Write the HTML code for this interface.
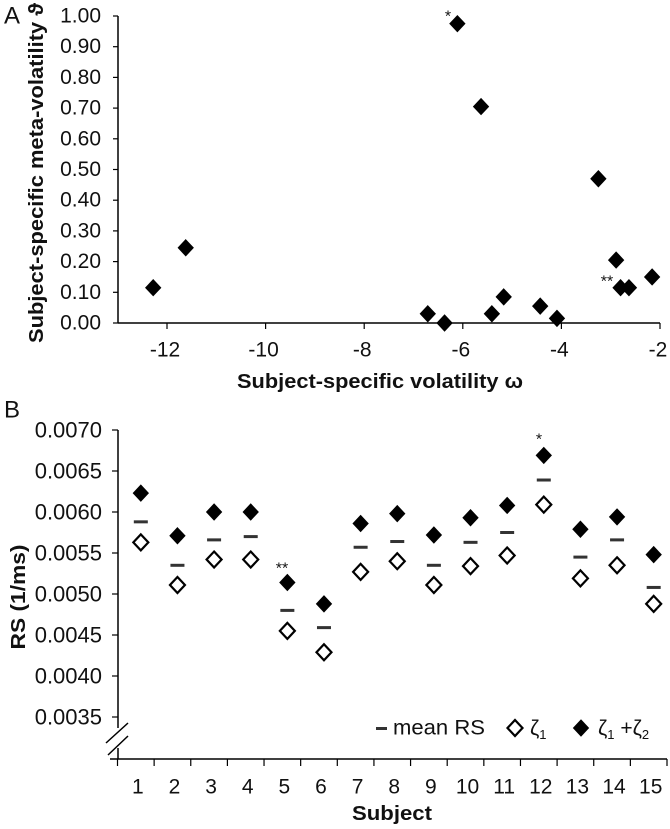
<!DOCTYPE html>
<html><head><meta charset="utf-8"><style>
html,body{margin:0;padding:0;background:#fff}
svg{display:block}
text{font-family:"Liberation Sans",Arial,sans-serif;fill:#111}
</style></head><body>
<svg id="c" width="670" height="829" viewBox="0 0 670 829" xmlns="http://www.w3.org/2000/svg"></svg>
<script>
// Panel A data
const omegaVals = [-12.28,-11.62,-6.71,-6.37,-6.11,-5.63,-5.41,-5.17,-4.43,-4.09,-3.25,-2.89,-2.80,-2.63,-2.16];
const thetaVals = [0.115,0.245,0.03,0.0,0.975,0.705,0.03,0.085,0.055,0.015,0.47,0.205,0.115,0.115,0.15];
const aXTicks = [-12,-10,-8,-6,-4,-2];
const aYTicks = [0,0.1,0.2,0.3,0.4,0.5,0.6,0.7,0.8,0.9,1.0];
// Panel B data
const subjects = [1,2,3,4,5,6,7,8,9,10,11,12,13,14,15];
const zeta12 = [0.00623,0.00571,0.00600,0.00600,0.00514,0.00488,0.00586,0.00598,0.00572,0.00593,0.00608,0.00669,0.00579,0.00594,0.00548];
const meanRS = [0.00588,0.00535,0.00566,0.00570,0.00480,0.00459,0.00557,0.00564,0.00535,0.00563,0.00575,0.00639,0.00545,0.00566,0.00508];
const zeta1 = [0.00563,0.00511,0.00542,0.00542,0.00455,0.00429,0.00527,0.00540,0.00511,0.00534,0.00547,0.00609,0.00519,0.00535,0.00488];
const bYTicks = [0.0035,0.0040,0.0045,0.0050,0.0055,0.0060,0.0065,0.0070];

const svg=document.getElementById('c');
const NS='http://www.w3.org/2000/svg';
function mk(tag,attrs,parent){const e=document.createElementNS(NS,tag);for(const k in attrs)e.setAttribute(k,attrs[k]);(parent||svg).appendChild(e);return e;}
function txt(s,x,y,opts,name){
  const e=mk('text',{x:0,y:0,'font-size':opts.fs||20,'text-anchor':opts.anchor||'middle','dominant-baseline':'central','font-weight':opts.bold?'bold':'normal',transform:`translate(${x},${y}) ${opts.rot?'rotate(-90)':''}`});
  if(opts.len){e.setAttribute('textLength',opts.len);e.setAttribute('lengthAdjust','spacingAndGlyphs');}
  e.textContent=s;
  
  
  return e;
}
function diamond(cx,cy,fill,name){
  const hw=7.5,hh=8;
  const p=mk('polygon',{points:`${cx},${cy-hh} ${cx+hw},${cy} ${cx},${cy+hh} ${cx-hw},${cy}`,fill:fill?'#000':'#fff',stroke:'#000','stroke-width':fill?1:2.2});
  
  
  return p;
}

// ---- Panel A ----
const ax=v=>167+(v-(-12))*49.3;
const ay=v=>323-v*307;
txt('A',12,16,{fs:24},'panel-a-label');
let l=mk('line',{x1:118,y1:16,x2:118,y2:323,stroke:'#000','stroke-width':1.5});

l=mk('line',{x1:118,y1:323,x2:660,y2:323,stroke:'#000','stroke-width':1.5});

aYTicks.forEach(v=>{
  const t=mk('line',{x1:113,y1:ay(v),x2:118,y2:ay(v),stroke:'#000','stroke-width':1.2});
  
  txt(v.toFixed(2),101,ay(v),{anchor:'end',fs:21},'a-y-tick-label');
});
aXTicks.forEach(v=>{
  const t=mk('line',{x1:ax(v),y1:323,x2:ax(v),y2:329,stroke:'#000','stroke-width':1.2});
  
  txt(String(v),ax(v)-2,350,{fs:21},'a-x-tick-label');
});
txt('Subject-specific volatility ω',380,382,{bold:true,fs:20,len:286},'a-x-axis-title');
txt('Subject-specific meta-volatility ϑ',37,173,{bold:true,fs:20,rot:true,len:340},'a-y-axis-title');
omegaVals.forEach((v,i)=>diamond(ax(v),ay(thetaVals[i]),true,'a-point'));
txt('*',448,17,{fs:16},'a-star-annotation');
txt('**',607,282,{fs:16},'a-double-star-annotation');

// ---- Panel B ----
const by=v=>430+(0.0070-v)/0.0035*287;
const binW=(667-117.5)/15;
const bx=i=>117.5+binW*(i+0.5)+5;
txt('B',12,410,{fs:24},'panel-b-label');
l=mk('line',{x1:118,y1:430,x2:118,y2:728,stroke:'#000','stroke-width':1.5});

l=mk('line',{x1:118,y1:748,x2:118,y2:759,stroke:'#000','stroke-width':1.5});

l=mk('path',{d:'M106,743 L128,723 M108,755 L128,736',stroke:'#000','stroke-width':1.5,fill:'none'});

l=mk('line',{x1:110,y1:759,x2:667,y2:759,stroke:'#000','stroke-width':1.5});

bYTicks.forEach(v=>{
  const t=mk('line',{x1:112,y1:by(v),x2:118,y2:by(v),stroke:'#000','stroke-width':1.2});
  
  txt(v.toFixed(4),102,by(v),{anchor:'end',fs:22},'b-y-tick-label');
});
for(let i=0;i<=15;i++){
  const x=117.5+binW*i;
  const t=mk('line',{x1:x,y1:759,x2:x,y2:766,stroke:'#000','stroke-width':1.2});
  
}
subjects.forEach((s,i)=>txt(String(s),117.5+binW*(i+0.5)+2,787,{fs:21},'b-x-tick-label'));
txt('Subject',392,814,{bold:true,fs:20,len:80},'b-x-axis-title');
txt('RS (1/ms)',19,597,{bold:true,fs:20,rot:true,len:105},'b-y-axis-title');
subjects.forEach((s,i)=>{
  diamond(bx(i),by(zeta12[i]),true,'zeta1-plus-zeta2-point');
  const m=mk('rect',{x:bx(i)-7,y:by(meanRS[i])-1.5,width:14,height:3,fill:'#333'});
  
  diamond(bx(i),by(zeta1[i]),false,'zeta1-point');
});
txt('**',282,569,{fs:16},'b-double-star-annotation');
txt('*',539,440,{fs:16},'b-star-annotation');
// legend
const lg=mk('g',{});

let r=mk('rect',{x:376,y:727,width:11,height:3,fill:'#333'},lg);

txt('mean RS',393,728,{anchor:'start',fs:21,len:92},'legend-mean-rs-label');
diamond(515,728,false,'legend-zeta1-swatch');
let t1=mk('text',{x:530,y:735,'font-size':21});

t1.innerHTML='ζ<tspan font-size="13" dy="4">1</tspan>';
diamond(581,728,true,'legend-zeta12-swatch');
let t2=mk('text',{x:598,y:735,'font-size':21});

t2.innerHTML='ζ<tspan font-size="13" dy="4">1</tspan><tspan dy="-4"> +ζ</tspan><tspan font-size="13" dy="4">2</tspan>';
</script>
</body></html>
